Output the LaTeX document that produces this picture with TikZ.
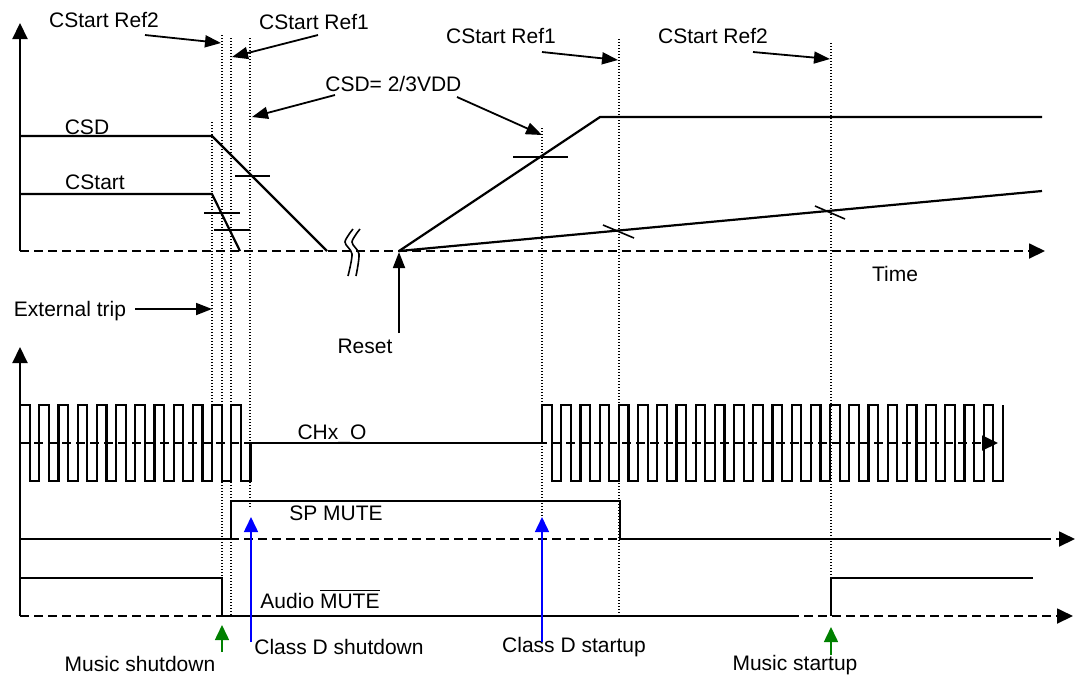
\documentclass[tikz,border=0pt]{standalone}
\usepackage{fontspec}
\setmainfont{Liberation Sans}
\usetikzlibrary{arrows.meta}
\definecolor{mgreen}{RGB}{0,128,0}
\begin{document}
\begin{tikzpicture}[x=0.5pt,y=-0.5pt,
  sig/.style={line width=1.1pt},
  tick/.style={line width=0.8pt},
  base/.style={line width=0.9pt,dash pattern=on 4.5pt off 2.5pt},
  guide/.style={line width=0.6pt,dash pattern=on 0.6pt off 0.9pt},
  tip/.style={-{Triangle[length=8pt,width=7.5pt]}},
  ptr/.style={line width=0.9pt,-{Triangle[length=8pt,width=6pt]}},
  evt/.style={line width=0.8pt,-{Triangle[length=7.5pt,width=7pt]}},
  lbl/.style={font=\fontsize{10.5}{12.6}\selectfont,inner sep=0pt}]
\useasboundingbox (0,0) rectangle (1075,677);

% axes and time lines
\draw[sig,tip] (20,251) -- (20,23);
\draw[base,tip] (20,251) -- (1045,251);
\draw[sig,tip] (20,616) -- (20,347);
\draw[base,tip] (20,443) -- (998,443);
\draw[base,tip] (20,539) -- (1075,539);
\draw[base,tip] (20,616) -- (1073,616);

% guides
\foreach \x/\a/\b in {212/122/403,222/35/616,231/38/616,250/38/508,542/128/517,619/39/613,831/43/578}
  \draw[guide] (\x,\a) -- (\x,\b);

% CSD and CStart
\draw[sig] (20,136) -- (212,136) -- (327,251);
\draw[sig] (20,194) -- (212,194) -- (240,251);
\draw[sig] (399,251) -- (600,117) -- (1042,117);
\draw[sig] (399,251) -- (1042,191);
\draw[tick] (235,176) -- (270,176);
\draw[tick] (204,213) -- (240,213);
\draw[tick] (214,230) -- (250,230);
\draw[tick] (513,157) -- (568,157);
\draw[tick] (603,225) -- (634,238);
\draw[tick] (815,206) -- (845,219);

% break
\draw[line width=0.8pt] plot[smooth] coordinates {(353,229) (345,242) (352,254) (348,276)};
\draw[line width=0.8pt] plot[smooth] coordinates {(360,229) (352,242) (359,254) (356,276)};

% CHx_O
\draw[sig] (20,405) \foreach \i in {1,...,11} { -- ++(9.6,0) -- ++(0,76) -- ++(9.6,0) -- ++(0,-76) }
  -- ++(9.6,0) -- ++(0,76) -- ++(9.6,0) -- ++(0,-38) -- (542,443) -- (542,405)
  \foreach \i in {1,...,24} { -- ++(9.6,0) -- ++(0,76) -- ++(9.6,0) -- ++(0,-76) };

% SP MUTE and Audio MUTE
\draw[sig] (20,539) -- (231,539) -- (231,501) -- (620,501) -- (620,539) -- (1047,539);
\draw[sig] (20,578) -- (222,578) -- (222,616) -- (791,616);
\draw[sig] (831,616) -- (831,578) -- (1033,578);

% labels
\node[lbl] (csd) at (87,127) {CSD};
\node[lbl] (cstart) at (95,182) {CStart};
\node[lbl] (refA) at (104,20) {CStart Ref2};
\node[lbl] (refB) at (314,22) {CStart Ref1};
\node[lbl,anchor=west] (vdd) at (325,84) {CSD= 2/3VDD};
\node[lbl] (refC) at (501,36) {CStart Ref1};
\node[lbl] (refD) at (713,36) {CStart Ref2};
\node[lbl] (time) at (895,274) {Time};
\node[lbl] (trip) at (70,311) {External trip};
\node[lbl] (reset) at (365,346) {Reset};
\node[lbl] (chx) at (332,434) {CHx\_O};
\node[lbl] (spm) at (336,513) {SP MUTE};
\node[lbl] (aum) at (320,599) {Audio $\overline{\mbox{MUTE}}$};
\node[lbl] (mshut) at (140,664) {Music shutdown};
\node[lbl] (cshut) at (339,647) {Class D shutdown};
\node[lbl] (cstup) at (574,647) {Class D startup};
\node[lbl] (mstup) at (795,665) {Music startup};

% pointers
\coordinate (pA) at (145,35);  \coordinate (qA) at (221,43);
\coordinate (pB) at (318,35);  \coordinate (qB) at (232,57);
\coordinate (pV1) at (335,95); \coordinate (qV1) at (252,117);
\coordinate (pV2) at (457,97); \coordinate (qV2) at (542,135);
\coordinate (pC) at (542,52);  \coordinate (qC) at (618,60);
\coordinate (pD) at (753,52);  \coordinate (qD) at (830,59);
\coordinate (pT) at (135,309); \coordinate (qT) at (212,309);
\coordinate (pR) at (399,333); \coordinate (qR) at (399,252);
\draw[ptr] (pA) -- (qA);
\draw[ptr] (pB) -- (qB);
\draw[ptr] (pV1) -- (qV1);
\draw[ptr] (pV2) -- (qV2);
\draw[ptr] (pC) -- (qC);
\draw[ptr] (pD) -- (qD);
\draw[ptr] (pT) -- (qT);
\draw[ptr] (pR) -- (qR);

% events
\coordinate (pMS) at (222,652); \coordinate (qMS) at (222,625);
\coordinate (pCS) at (251,642); \coordinate (qCS) at (251,517);
\coordinate (pCU) at (542,642); \coordinate (qCU) at (542,517);
\coordinate (pMU) at (831,655); \coordinate (qMU) at (831,627);
\draw[evt,mgreen] (pMS) -- (qMS);
\draw[evt,blue] (pCS) -- (qCS);
\draw[evt,blue] (pCU) -- (qCU);
\draw[evt,mgreen] (pMU) -- (qMU);
\end{tikzpicture}
\end{document}
